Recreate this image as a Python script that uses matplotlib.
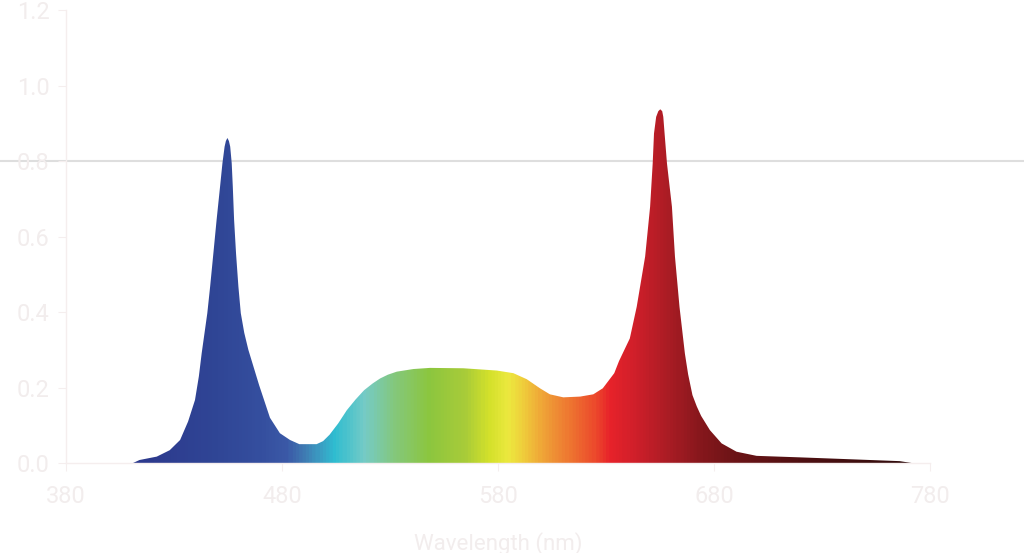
import matplotlib
matplotlib.use("Agg")
import matplotlib.pyplot as plt
import numpy as np
from matplotlib.colors import LinearSegmentedColormap

# spectrum (nm, relative intensity)
wavelength = [
    411, 414, 422, 428, 432.8, 436.5, 439.7, 441.5, 442.8, 445.4, 446.7,
    448.2, 449.7, 451.3, 452.4, 453.4, 454.0, 454.7, 455.4, 456.0, 456.7,
    457.2, 457.8, 458.7, 459.8, 460.9, 462.5, 464.4, 469.4, 474.4, 479,
    483.7, 488, 496, 499, 502, 506, 510, 514, 518, 522, 525.4, 529,
    533.1, 540.8, 548.5, 563.9, 579.4, 587.1, 593.3, 599.4, 604, 610.2, 618,
    624.1, 628.5, 633.8, 636, 641, 644.2, 648.1, 650.4, 651.6, 652.2, 653.2,
    654.2, 655.1, 656, 656.5, 657.1, 658.2, 660.5, 661.9, 664, 666.5, 668,
    670, 672, 674, 678.1, 683.5, 690.4, 699.7, 719.8, 743, 766, 771.5,
]
intensity = [
    0.0, 0.008, 0.017, 0.034, 0.061, 0.11, 0.167, 0.23, 0.291, 0.397, 0.467,
    0.555, 0.644, 0.732, 0.794, 0.838, 0.853, 0.861, 0.853, 0.838, 0.794,
    0.732, 0.644, 0.555, 0.467, 0.397, 0.345, 0.30, 0.206, 0.12, 0.079,
    0.061, 0.05, 0.05, 0.058, 0.075, 0.105, 0.14, 0.168, 0.193, 0.211,
    0.224, 0.234, 0.242, 0.249, 0.252, 0.251, 0.245, 0.238, 0.222, 0.198,
    0.182, 0.174, 0.176, 0.182, 0.198, 0.238, 0.27, 0.33, 0.414, 0.547,
    0.679, 0.794, 0.873, 0.917, 0.932, 0.937, 0.932, 0.917, 0.873, 0.794,
    0.679, 0.547, 0.414, 0.29, 0.235, 0.18, 0.15, 0.125, 0.087, 0.052,
    0.03, 0.019, 0.015, 0.01, 0.005, 0.0,
]

x_ticks = [380, 480, 580, 680, 780]
y_ticks = [0.0, 0.2, 0.4, 0.6, 0.8, 1.0, 1.2]

# colour of the fill along the wavelength axis
stop_nm = [380, 420, 450, 470, 482, 490, 497, 504, 518, 532, 548, 565, 576,
           585, 592, 602, 615, 625, 632, 645, 660, 675, 690, 720, 780]
stop_col = ["#2b3a8c", "#2d3b8e", "#304696", "#354f9f", "#3b59a7", "#3f7bb3",
            "#3b9cc2", "#2fbdd1", "#75cbc6", "#84c87c", "#8cc63f", "#a9cc39",
            "#d4e12b", "#ece93f", "#f0cc3b", "#ef9f37", "#ee7030", "#ec4a2c",
            "#e8232a", "#cd1f2a", "#a81c24", "#85171c", "#6c1417", "#501012",
            "#2a0b0b"]

text_col = "#f2eded"
plt.rcParams["font.family"] = ["Roboto", "DejaVu Sans"]

fig = plt.figure(figsize=(10.24, 5.53), dpi=100)
ax = fig.add_axes([0.0645, 0.1627, 0.84375, 0.8192])

pos = [(n - 380) / 400 for n in stop_nm]
cmap = LinearSegmentedColormap.from_list("spec", list(zip(pos, stop_col)))

poly = ax.fill_between(wavelength, intensity, 0, color="none", lw=0)
grad = np.linspace(0, 1, 800).reshape(1, -1)
img = ax.imshow(grad, extent=[380, 780, 0, 1.2], aspect="auto",
                cmap=cmap, origin="lower", zorder=2)
path = poly.get_paths()[0]
img.set_clip_path(path, transform=ax.transData)

ax.axhline(0.8, xmin=-0.0764, xmax=1.109, color="#dedede", lw=1.5,
           clip_on=False, zorder=1)

ax.set_xlim(380, 780)
ax.set_ylim(0, 1.2)
ax.set_xticks(x_ticks)
ax.set_yticks(y_ticks)
ax.set_yticklabels([f"{v:.1f}" for v in y_ticks])

for side in ["top", "right"]:
    ax.spines[side].set_visible(False)
for side in ["left", "bottom"]:
    ax.spines[side].set_color("#f5eeee")
    ax.spines[side].set_linewidth(1)

ax.tick_params(axis="both", colors="#f5eeee", labelcolor=text_col,
               labelsize=17, length=6)
ax.tick_params(axis="y", pad=6)
ax.tick_params(axis="x", pad=10)

ax.set_xlabel("Wavelength (nm)", color=text_col, fontsize=16, labelpad=17)

fig.savefig("out.png", dpi=100)
